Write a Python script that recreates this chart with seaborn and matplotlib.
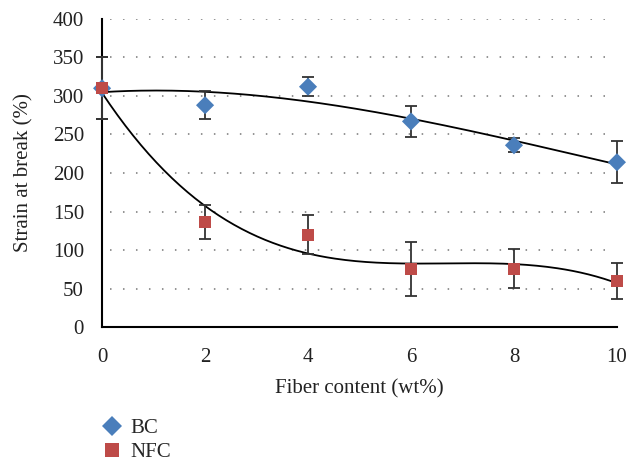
import numpy as np
import pandas as pd
import matplotlib
matplotlib.use("Agg")
import matplotlib.pyplot as plt
from matplotlib.lines import Line2D
import seaborn as sns

fiber = [0, 2, 4, 6, 8, 10]
bc_strain = [310, 288, 312, 267, 236, 214]
bc_err = [40, 18, 12, 20, 9, 27]
nfc_strain = [310, 136, 120, 76, 76, 60]
nfc_err = [40, 22, 25, 35, 25, 23]
series = ["BC", "NFC"]
colors = {"BC": "#4A7EBB", "NFC": "#BE4B48"}
yticks = [0, 50, 100, 150, 200, 250, 300, 350, 400]
xticks = [0, 2, 4, 6, 8, 10]

sns.set_theme(style="white")
plt.rcParams["font.family"] = ["Liberation Serif", "DejaVu Serif"]

df = pd.DataFrame({
    "x": fiber * 2,
    "y": bc_strain + nfc_strain,
    "err": bc_err + nfc_err,
    "s": ["BC"] * 6 + ["NFC"] * 6,
})

fig = plt.figure(figsize=(6.38, 4.62), dpi=100)
ax = fig.add_axes([0.16, 0.292, 0.807, 0.667])

for y in yticks[1:]:
    ax.plot([0.15, 9.8], [y, y], color="#777777", lw=1.1, ls=(0, (1, 7.5)), zorder=0)

# trendlines (polynomial fits)
xs = np.linspace(0, 10, 200)
pb = np.polyfit(fiber, bc_strain, 3)
pn = np.polyfit(fiber, nfc_strain, 3)
ax.plot(xs, np.polyval(pb, xs), color="black", lw=1.3, zorder=2)
ax.plot(xs, np.polyval(pn, xs), color="black", lw=1.3, zorder=2)

for s, vals, errs in [("BC", bc_strain, bc_err), ("NFC", nfc_strain, nfc_err)]:
    ax.errorbar(fiber, vals, yerr=errs, fmt="none", ecolor="#333333",
                elinewidth=1.3, capsize=4, capthick=1.3, zorder=3, clip_on=False)

sns.scatterplot(data=df, x="x", y="y", hue="s", style="s", size="s",
                markers={"BC": "D", "NFC": "s"}, palette=colors,
                sizes={"BC": 85, "NFC": 75},
                edgecolor="none", ax=ax, zorder=4, clip_on=False,
                legend=False)

ax.set_xlim(0, 10)
ax.set_ylim(0, 400)
ax.set_xticks(xticks)
ax.set_yticks(yticks)
ax.tick_params(axis="both", labelsize=15, direction="out", length=5,
               width=1.2, color="black", labelcolor="#222222")
ax.tick_params(axis="x", pad=10)
ax.tick_params(axis="y", pad=8)
for sp in ["top", "right"]:
    ax.spines[sp].set_visible(False)
for sp in ["left", "bottom"]:
    ax.spines[sp].set_color("black")
    ax.spines[sp].set_linewidth(1.5)
ax.set_xlabel("Fiber content (wt%)", fontsize=15, labelpad=9, color="#222222")
ax.set_ylabel("Strain at break (%)", fontsize=15, labelpad=14, color="#222222")

handles = [
    Line2D([], [], ls="none", marker="D", color=colors["BC"], markersize=10.5, markeredgewidth=0),
    Line2D([], [], ls="none", marker="s", color=colors["NFC"], markersize=10.5, markeredgewidth=0),
]
ax.legend(handles, series, loc="upper left", bbox_to_anchor=(0.143, 0.112),
          bbox_transform=fig.transFigure, frameon=False, fontsize=15,
          handletextpad=0.3, labelspacing=0.2,
          handlelength=1.2, borderaxespad=0)

fig.savefig("out.png", dpi=100)
